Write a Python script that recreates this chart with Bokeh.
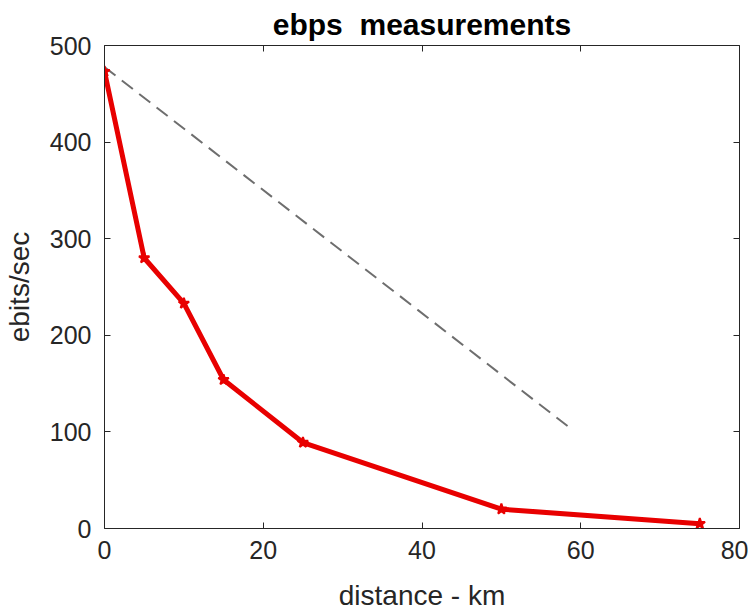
from bokeh.plotting import figure
from bokeh.models import Range1d, LinearAxis, FixedTicker, CustomJSTickFormatter
from bokeh.embed import file_html
from bokeh.resources import INLINE

# data
distance_km = [0, 5, 10, 15, 25, 50, 75]
ebits_per_sec = [473, 280, 233, 154, 89, 20, 5]
ref_x = [-2.2, 58.5]
ref_y = [491.7, 105]
x_ticks = [0, 20, 40, 60, 80]
y_ticks = [0, 100, 200, 300, 400, 500]

FONT = "Liberation Sans"
AX = "#262626"
RED = "#e80000"

p = figure(frame_width=635, frame_height=483, output_backend="svg", toolbar_location=None,
           x_range=Range1d(0, 80), y_range=Range1d(0, 500),
           min_border_left=96, min_border_right=9, min_border_top=38, min_border_bottom=0)
p.title.text = "ebps\u00a0 measurements"
p.title.align = "center"
p.title.text_font = FONT
p.title.text_font_size = "30px"
p.title.text_font_style = "bold"
p.title.text_color = "black"
p.title.standoff = 10
p.grid.visible = False
p.outline_line_color = None
p.background_fill_color = "white"
p.border_fill_color = "white"

for ax, ticks in ((p.xaxis[0], x_ticks), (p.yaxis[0], y_ticks)):
    ax.ticker = FixedTicker(ticks=ticks)
    ax.major_tick_in = 6
    ax.major_tick_out = 0
    ax.minor_tick_in = 0
    ax.minor_tick_out = 0
    ax.axis_line_color = AX
    ax.major_tick_line_color = AX
    ax.major_label_text_font = FONT
    ax.major_label_text_font_size = "25px"
    ax.major_label_text_color = AX
    ax.axis_label_text_font = FONT
    ax.axis_label_text_font_size = "28px"
    ax.axis_label_text_font_style = "normal"
    ax.axis_label_text_color = AX

p.xaxis[0].axis_label = "distance - km"
p.yaxis[0].axis_label = "ebits/sec"
p.xaxis[0].major_label_standoff = 12
p.yaxis[0].major_label_standoff = 13
p.xaxis[0].axis_label_standoff = 18
p.yaxis[0].axis_label_standoff = 12

blank = CustomJSTickFormatter(code="return ''")
for loc, ticks in (("right", y_ticks), ("above", x_ticks)):
    a = LinearAxis(ticker=FixedTicker(ticks=ticks), formatter=blank,
                   major_tick_in=6, major_tick_out=0,
                   minor_tick_in=0, minor_tick_out=0, axis_line_color=AX,
                   major_tick_line_color=AX, major_label_standoff=0)
    p.add_layout(a, loc)

p.line(ref_x, ref_y, line_color="#6e6e6e", line_width=2, line_dash="14 8")
p.line(distance_km, ebits_per_sec, line_color=RED, line_width=5)
p.scatter(distance_km, ebits_per_sec, marker="star", size=11, fill_color=RED,
          line_color=RED, line_width=2)

open("out.html", "w").write(file_html(p, INLINE))
